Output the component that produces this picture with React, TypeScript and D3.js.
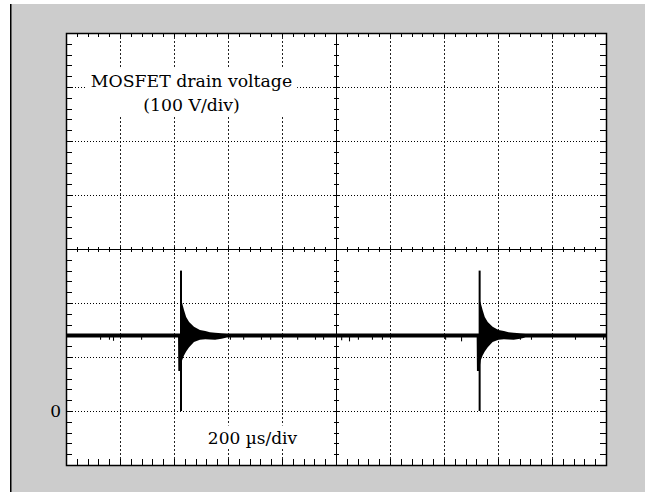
import React, { useEffect, useRef } from 'react';
import * as d3 from 'd3';

// time axis in µs, voltage in V
const timeDomain = [0, 2000];
const voltDomain = [-100, 700];
const centerTime = 1000;
const centerVolt = 300;

const spikeTimes = [426, 1532];
const spikeTop = 260;
const spikeBottom = 0;
const baseUpper = 143.5;
const baseLower = 136;

// ring-down envelope, offsets from each spike
const ringDt = [-11, -10, -1, 0, 4, 11, 19, 30, 48, 70, 90, 107, 126, 150, 170];
const ringUpper = [143.5, 143.5, 143.5, 205, 200, 187, 174, 165, 156, 150, 148, 146, 145, 144, 143.5];
const ringLower = [136, 74, 74, 81, 94, 103, 110, 118, 128, 132, 133, 132.5, 132, 134, 136];

// small dips under the trace
const glitchTimes = [126, 159, 174, 278, 607, 656, 722, 756, 856, 922, 952, 1019, 1048, 1081, 1133, 1170, 1404, 1463, 1681, 1722, 1885, 1989];
const glitchDepth = [132, 132, 130, 132, 132, 132, 132, 132, 132, 132, 132, 131, 129, 132, 132, 132, 132, 129, 132, 132, 132, 132];

const yTickValues = [0];
const yTickLabels = ['0'];

const titleLines = ['MOSFET drain voltage', '(100 V/div)'];
const timeLabel = '200 µs/div';

const App: React.FC = () => {
  const svgRef = useRef<SVGSVGElement>(null);

  useEffect(() => {
    if (!svgRef.current) return;
    const W = 645;
    const H = 492;
    const margin = { top: 33, left: 66 };
    const width = 540;
    const height = 432;

    const svg = d3.select(svgRef.current);
    svg.selectAll('*').remove();

    // page frame
    svg.append('rect').attr('x', 11).attr('y', 4).attr('width', W - 11).attr('height', H - 4).attr('fill', '#cccccc');
    svg.append('line').attr('x1', 10.75).attr('x2', 10.75).attr('y1', 4).attr('y2', H)
      .attr('stroke', '#000').attr('stroke-width', 1.5);

    const x = d3.scaleLinear().domain(timeDomain).range([margin.left, margin.left + width]);
    const y = d3.scaleLinear().domain(voltDomain).range([margin.top + height, margin.top]);

    const x0 = x(timeDomain[0]), x1 = x(timeDomain[1]);
    const y0 = y(voltDomain[0]), y1 = y(voltDomain[1]);

    svg.append('rect').attr('x', x0).attr('y', y1).attr('width', width).attr('height', height).attr('fill', '#fff');

    // dotted grid
    const grid = svg.append('g').attr('stroke', '#222').attr('stroke-width', 1);
    d3.range(200, 2000, 200).filter(t => t !== centerTime).forEach(t => {
      grid.append('line').attr('x1', Math.round(x(t)) + 0.5).attr('x2', Math.round(x(t)) + 0.5)
        .attr('y1', y1).attr('y2', y0).attr('stroke-dasharray', '2,2');
    });
    d3.range(0, 700, 100).filter(v => v !== centerVolt).forEach(v => {
      grid.append('line').attr('y1', Math.round(y(v)) + 0.5).attr('y2', Math.round(y(v)) + 0.5)
        .attr('x1', x0).attr('x2', x1).attr('stroke-dasharray', '1,2').attr('stroke', '#000');
    });

    // center cross with minor ticks
    const cx = Math.round(x(centerTime)) + 0.5;
    const cy = Math.round(y(centerVolt)) + 0.5;
    const cross = svg.append('g').attr('stroke', '#000').attr('stroke-width', 1);
    cross.append('line').attr('x1', cx).attr('x2', cx).attr('y1', y1).attr('y2', y0);
    cross.append('line').attr('x1', x0).attr('x2', x1).attr('y1', cy).attr('y2', cy);
    d3.range(voltDomain[0] + 20, voltDomain[1], 20).forEach(v => {
      const yy = Math.round(y(v)) + 0.5;
      cross.append('line').attr('x1', cx - 2.5).attr('x2', cx + 2.5).attr('y1', yy).attr('y2', yy);
    });
    d3.range(timeDomain[0] + 40, timeDomain[1], 40).forEach(t => {
      const xx = Math.round(x(t)) + 0.5;
      cross.append('line').attr('x1', xx).attr('x2', xx).attr('y1', cy - 2.5).attr('y2', cy + 2.5);
    });

    // edge ticks
    const edge = svg.append('g').attr('stroke', '#000').attr('stroke-width', 1);
    d3.range(timeDomain[0] + 40, timeDomain[1], 40).forEach(t => {
      const xx = Math.round(x(t)) + 0.5;
      edge.append('line').attr('x1', xx).attr('x2', xx).attr('y1', y1).attr('y2', y1 + 4);
      edge.append('line').attr('x1', xx).attr('x2', xx).attr('y1', y0).attr('y2', y0 - 6);
    });
    d3.range(voltDomain[0] + 20, voltDomain[1], 20).forEach(v => {
      const yy = Math.round(y(v)) + 0.5;
      edge.append('line').attr('x1', x0).attr('x2', x0 + 6).attr('y1', yy).attr('y2', yy);
      edge.append('line').attr('x1', x1).attr('x2', x1 - 6).attr('y1', yy).attr('y2', yy);
    });

    // trace
    const pts: { t: number; hi: number; lo: number }[] = [{ t: timeDomain[0], hi: baseUpper, lo: baseLower }];
    spikeTimes.forEach(t0 => {
      ringDt.forEach((dt, i) => pts.push({ t: t0 + dt, hi: ringUpper[i], lo: ringLower[i] }));
    });
    pts.push({ t: timeDomain[1], hi: baseUpper, lo: baseLower });

    const area = d3.area<{ t: number; hi: number; lo: number }>()
      .x(d => x(d.t))
      .y0(d => y(d.lo))
      .y1(d => y(d.hi));
    svg.append('path').datum(pts).attr('d', area).attr('fill', '#000');

    svg.append('g').selectAll('rect').data(glitchTimes).enter().append('rect')
      .attr('x', d => x(d))
      .attr('width', d => x(d + 4) - x(d))
      .attr('y', y(baseLower) - 0.5)
      .attr('height', (d, i) => y(glitchDepth[i]) - y(baseLower) + 0.5)
      .attr('fill', '#000');

    svg.append('g').selectAll('line').data(spikeTimes).enter().append('line')
      .attr('x1', d => x(d)).attr('x2', d => x(d))
      .attr('y1', y(spikeTop)).attr('y2', y(spikeBottom))
      .attr('stroke', '#000').attr('stroke-width', 2);

    // box border
    svg.append('rect').attr('x', x0 + 0.5).attr('y', y1 + 0.5).attr('width', width).attr('height', height)
      .attr('fill', 'none').attr('stroke', '#000').attr('stroke-width', 1.5);

    const font = '"DejaVu Serif", serif';

    // title with white backing
    const titleG = svg.append('g');
    const titleBg = titleG.append('rect').attr('fill', '#fff');
    const title = titleG.append('text')
      .attr('font-family', font).attr('font-size', 17.3).attr('text-anchor', 'middle').attr('fill', '#000');
    titleLines.forEach((s, i) => {
      title.append('tspan').attr('x', 191.5).attr('y', 87 + i * 23.5).text(s);
    });
    const tb = (title.node() as SVGTextElement).getBBox();
    titleBg.attr('x', tb.x - 5).attr('y', tb.y - 4).attr('width', tb.width + 10).attr('height', tb.height + 6);

    // time label
    const tlG = svg.append('g');
    const tlBg = tlG.append('rect').attr('fill', '#fff');
    const tl = tlG.append('text')
      .attr('font-family', font).attr('font-size', 17).attr('text-anchor', 'middle')
      .attr('x', x(1000) - 83.5).attr('y', 443.5).text(timeLabel);
    const lb = (tl.node() as SVGTextElement).getBBox();
    tlBg.attr('x', lb.x - 3).attr('y', lb.y - 2).attr('width', lb.width + 6).attr('height', lb.height + 3);

    // y tick labels
    svg.append('g').selectAll('text').data(yTickValues).enter().append('text')
      .attr('font-family', font).attr('font-size', 17).attr('text-anchor', 'end')
      .attr('x', x0 - 5).attr('y', d => y(d)).attr('dy', '0.36em')
      .text((d, i) => yTickLabels[i]);
  }, []);

  return <svg ref={svgRef} width={645} height={492} style={{ position: 'absolute', left: 0, top: 0 }}></svg>;
};

export default App;
